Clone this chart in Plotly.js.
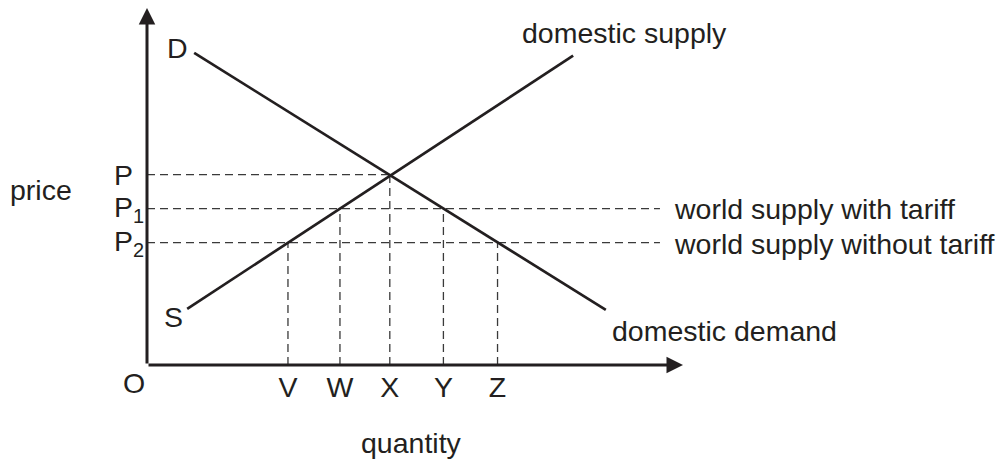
<!DOCTYPE html>
<html>
<head>
<meta charset="utf-8">
<script src="https://cdn.plot.ly/plotly-3.0.1.min.js"></script>
<style>
  html, body { margin: 0; padding: 0; background: #fff; }
  #plot { width: 1005px; height: 459px; }
</style>
</head>
<body>
<div id="plot"></div>
<script>
// quantity / price (quantity 0..10, price 0..10.5)
let demandQ = [0.88, 8.56];
let demandP = [9.18, 1.62];
let supplyQ = [0.75, 7.95];
let supplyP = [1.65, 9.1];

let qLabels = ["V", "W", "X", "Y", "Z"];
let qVals = [2.63, 3.6, 4.53, 5.53, 6.54];
let dropTops = [3.6, 4.6, 5.6, 4.6, 3.6];

let pLabels = ["P", "P<sub>1</sub>", "P<sub>2</sub>"];
let pVals = [5.6, 4.6, 3.6];
let pEnds = [4.53, 9.57, 9.57];

let ink = "#231f20";
let fontFam = "Liberation Sans, Arial, sans-serif";
let fontSize = 28.5;

// build the dashed guide lines, one trace with gaps
let dashX = [];
let dashY = [];
for (var i = 0; i < pVals.length; i++) {
    dashX.push(0, pEnds[i], null);
    dashY.push(pVals[i], pVals[i], null);
}
for (var j = 0; j < qVals.length; j++) {
    dashX.push(qVals[j], qVals[j], null);
    dashY.push(0, dropTops[j], null);
}

let guideTrace = {
    x: dashX,
    y: dashY,
    mode: "lines",
    line: { color: "#3a3a3a", width: 1.3, dash: "8px,5px" },
    connectgaps: false,
    hoverinfo: "skip"
};

let demandTrace = {
    x: demandQ,
    y: demandP,
    mode: "lines",
    line: { color: ink, width: 2.7 },
    hoverinfo: "skip"
};

let supplyTrace = {
    x: supplyQ,
    y: supplyP,
    mode: "lines",
    line: { color: ink, width: 2.7 },
    hoverinfo: "skip"
};

let data = [guideTrace, demandTrace, supplyTrace];

function label(txt, x, y, xanchor, xref, yref) {
    return {
        text: txt, x: x, y: y, xref: xref || "x", yref: yref || "y",
        xanchor: xanchor || "center", yanchor: "middle",
        showarrow: false, font: { family: fontFam, size: fontSize, color: ink }
    };
}

function axisArrow(x, y) {
    return {
        text: "", x: x, y: y, ax: 0, ay: 0,
        xref: "x", yref: "y", axref: "x", ayref: "y",
        showarrow: true, arrowhead: 2, arrowsize: 1.1, arrowwidth: 3, arrowcolor: ink
    };
}

let annotations = [
    axisArrow(0, 10.5),
    axisArrow(10, 0),
    label("D", 0.56, 9.32),
    label("S", 0.49, 1.41),
    label("O", -0.024, -0.05, "center", "paper", "paper"),
    label("domestic supply", 6.96, 9.77, "left"),
    label("world supply with tariff", 9.8, pVals[1], "left"),
    label("world supply without tariff", 9.8, pVals[2] - 0.05, "left"),
    label("domestic demand", 8.64, 1.0, "left"),
    label("price", -0.198, 0.49, "center", "paper", "paper"),
    label("quantity", 0.494, -0.218, "center", "paper", "paper")
];

// price labels sit left-aligned beside the vertical axis
for (var k = 0; k < pLabels.length; k++) {
    annotations.push(label(pLabels[k], -0.066, pVals[k], "left", "paper", "y"));
}

let layout = {
    width: 1005,
    height: 459,
    margin: { l: 147, r: 322, t: 8, b: 94, pad: 0 },
    paper_bgcolor: "#ffffff",
    plot_bgcolor: "#ffffff",
    showlegend: false,
    font: { family: fontFam, size: fontSize, color: ink },
    xaxis: {
        range: [0, 10],
        showgrid: false,
        zeroline: false,
        showline: false,
        ticks: "",
        tickvals: qVals,
        ticktext: qLabels,
        ticklabelstandoff: 2,
        fixedrange: true
    },
    yaxis: {
        range: [0, 10.5],
        showgrid: false,
        zeroline: false,
        showline: false,
        showticklabels: false,
        ticks: "",
        fixedrange: true
    },
    annotations: annotations
};

Plotly.newPlot("plot", data, layout, { staticPlot: true, displayModeBar: false });
</script>
</body>
</html>
